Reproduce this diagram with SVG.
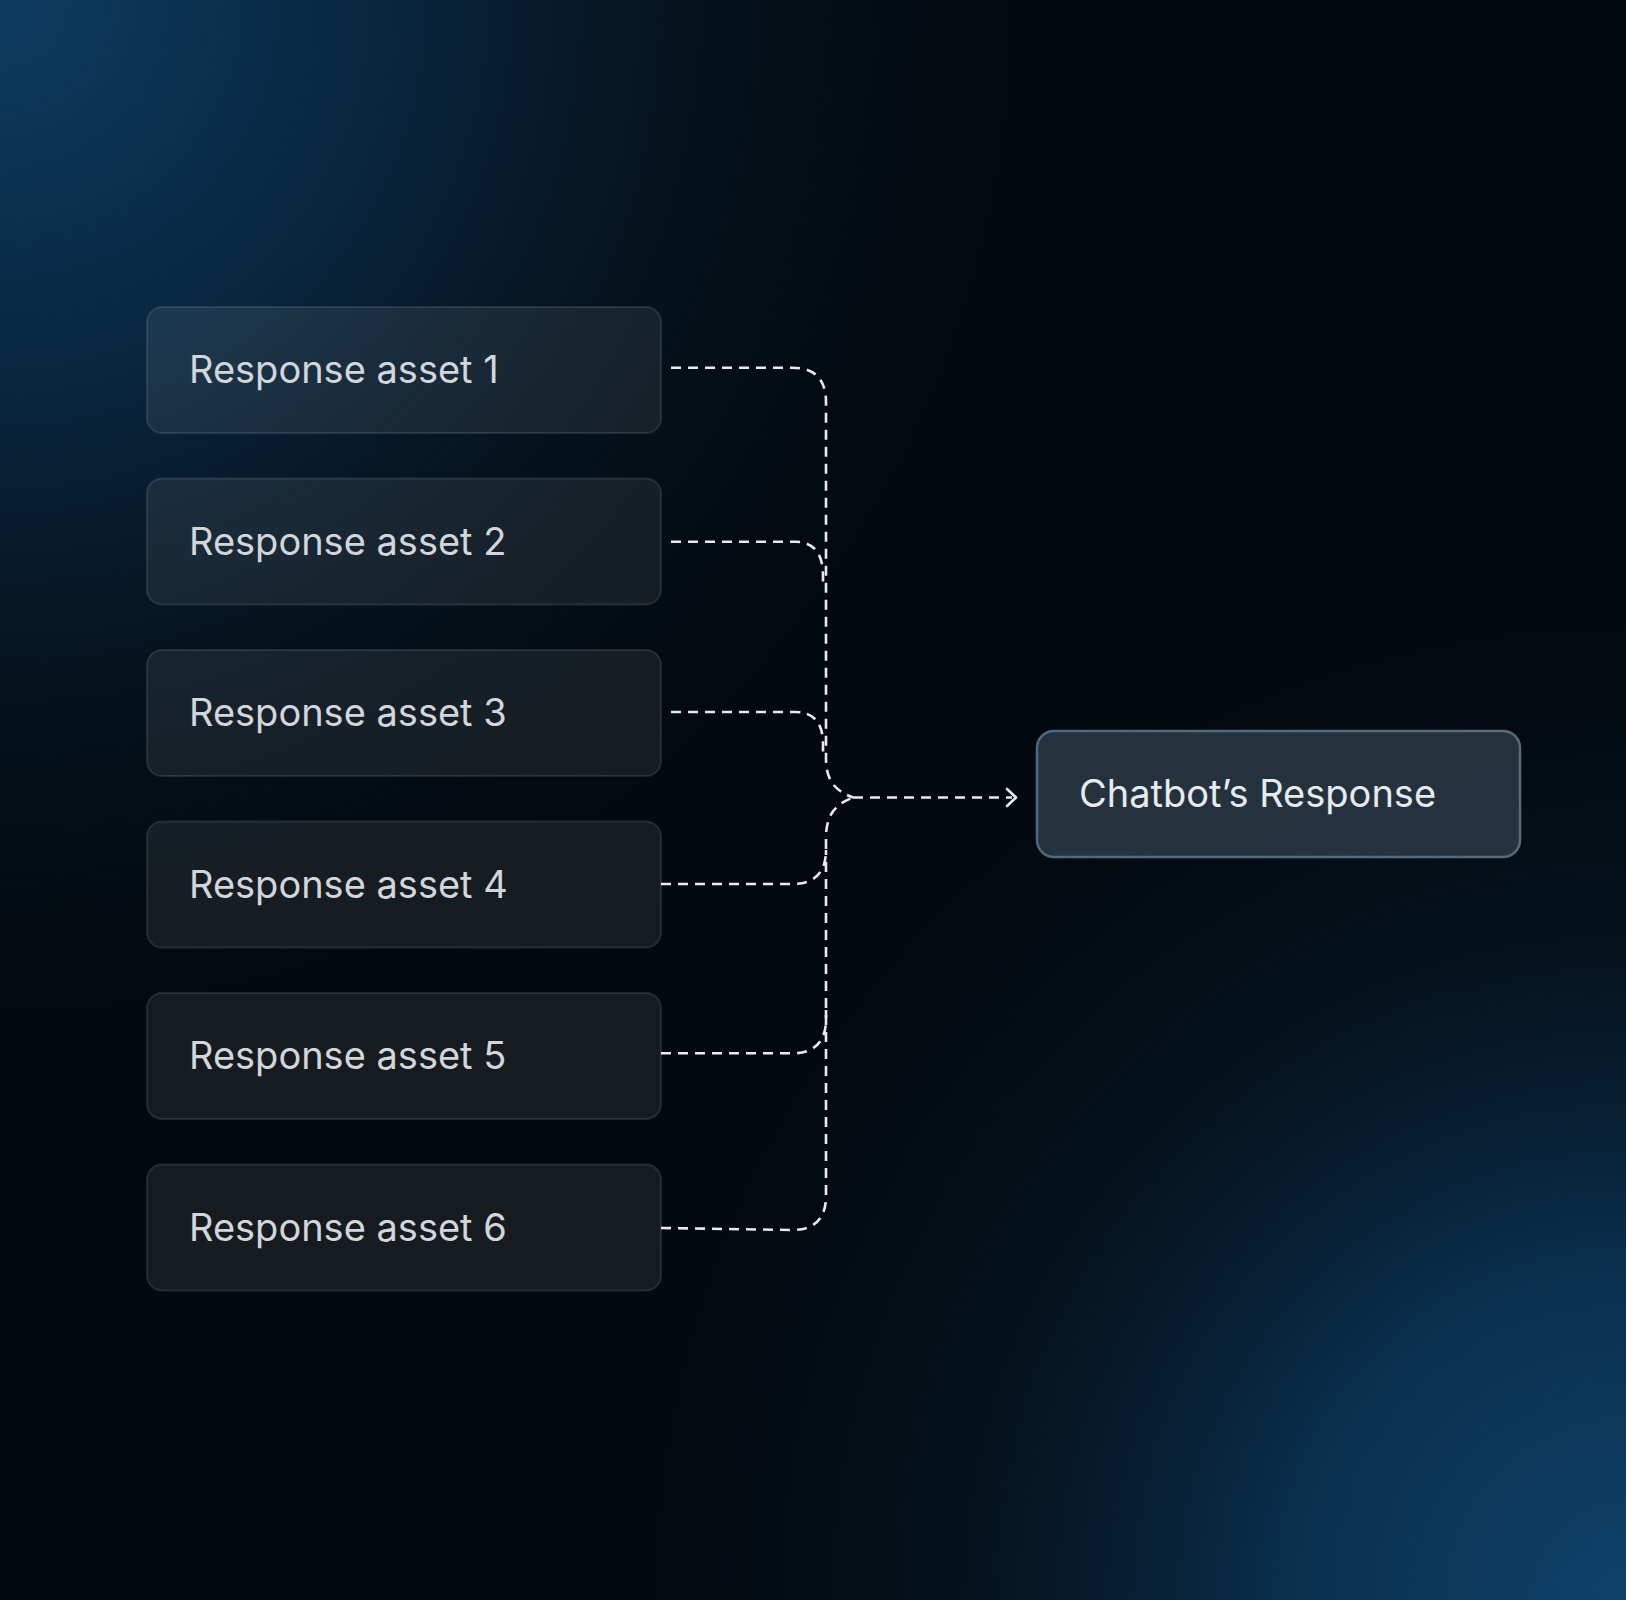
<svg xmlns="http://www.w3.org/2000/svg" width="1626" height="1600" viewBox="0 0 1626 1600">
  <defs>
    <radialGradient id="glowTL" gradientUnits="userSpaceOnUse" cx="0" cy="0" r="1150">
      <stop offset="0" stop-color="#0d3c62"/>
      <stop offset="0.35" stop-color="#0a2c48" stop-opacity="0.8"/>
      <stop offset="0.7" stop-color="#061826" stop-opacity="0.35"/>
      <stop offset="1" stop-color="#03090e" stop-opacity="0"/>
    </radialGradient>
    <radialGradient id="glowBR" gradientUnits="userSpaceOnUse" cx="1626" cy="1600" r="1100">
      <stop offset="0" stop-color="#0e426b"/>
      <stop offset="0.3" stop-color="#0b3455" stop-opacity="0.9"/>
      <stop offset="0.6" stop-color="#071c2e" stop-opacity="0.5"/>
      <stop offset="1" stop-color="#03090e" stop-opacity="0"/>
    </radialGradient>
    <linearGradient id="chatStroke" x1="0" y1="0" x2="1" y2="0">
      <stop offset="0" stop-color="#4a6a84"/>
      <stop offset="1" stop-color="#5c6a75"/>
    </linearGradient>
    <style>
      .asset rect { fill: #ffffff; fill-opacity: 0.075; stroke: #ffffff; stroke-opacity: 0.11; stroke-width: 2; }
      .asset text { font-family: Inter, "Liberation Sans", sans-serif; font-size: 38px; fill: #d2d6da; }
      .chat rect { fill: #2a3a46; fill-opacity: 0.85; stroke: url(#chatStroke); stroke-width: 2.5; }
      .chat text { font-family: Inter, "Liberation Sans", sans-serif; font-size: 38px; fill: #e8ebee; }
      .conn path { fill: none; stroke: #e8eaec; stroke-width: 2.6; stroke-dasharray: 10 7; }
      .conn .head { stroke-dasharray: none; stroke-linecap: round; stroke-linejoin: round; }
    </style>
  </defs>

  <rect x="0" y="0" width="1626" height="1600" fill="#03090e"/>
  <rect x="0" y="0" width="1626" height="1600" fill="url(#glowTL)"/>
  <rect x="0" y="0" width="1626" height="1600" fill="url(#glowBR)"/>

  <g id="asset1" class="asset">
    <rect x="147" y="307" width="514" height="126" rx="15"/>
    <text x="189" y="383">Response asset 1</text>
  </g>
  <g id="asset2" class="asset">
    <rect x="147" y="478.5" width="514" height="126" rx="15"/>
    <text x="189" y="554.5">Response asset 2</text>
  </g>
  <g id="asset3" class="asset">
    <rect x="147" y="650" width="514" height="126" rx="15"/>
    <text x="189" y="726">Response asset 3</text>
  </g>
  <g id="asset4" class="asset">
    <rect x="147" y="821.5" width="514" height="126" rx="15"/>
    <text x="189" y="897.5">Response asset 4</text>
  </g>
  <g id="asset5" class="asset">
    <rect x="147" y="993" width="514" height="126" rx="15"/>
    <text x="189" y="1069">Response asset 5</text>
  </g>
  <g id="asset6" class="asset">
    <rect x="147" y="1164.5" width="514" height="126" rx="15"/>
    <text x="189" y="1240.5">Response asset 6</text>
  </g>

  <g id="chatbot" class="chat">
    <rect x="1037" y="731" width="483" height="126" rx="17"/>
    <text x="1079" y="807">Chatbot’s Response</text>
  </g>

  <g id="connectors" class="conn">
    <path d="M671,367.7 H792 Q826,367.7 826,402 V758 C826,782 836,791 853,797.5"/>
    <path d="M671,541.7 H795 Q823,541.7 823,576 V586"/>
    <path d="M671,712 H795 Q823,712 823,744 V752"/>
    <path d="M661,884 H792 Q826,884 826,850 V838 C826,814 836,804 853,797.5"/>
    <path d="M661,1053.3 H792 Q826,1053.3 826,1019 V1010"/>
    <path d="M661,1228 L792,1230 Q826,1230 826,1196 V850"/>
    <path d="M853,797.5 H1012"/>
    <path class="head" d="M1007,789 L1016,797.5 L1007,806"/>
  </g>
</svg>
